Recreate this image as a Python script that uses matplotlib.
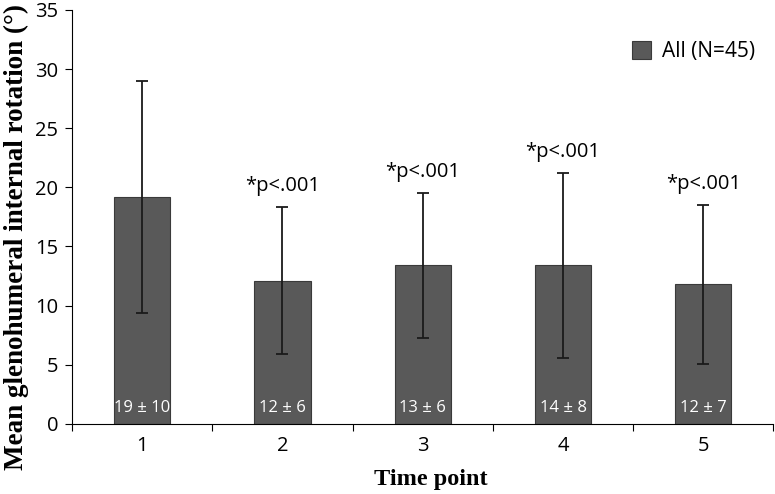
import matplotlib.pyplot as plt
import numpy as np

# values
timepoints = [1, 2, 3, 4, 5]
means = [19.2, 12.1, 13.4, 13.4, 11.8]
sds = [9.8, 6.2, 6.1, 7.8, 6.7]
bar_labels = ["19 \u00b1 10", "12 \u00b1 6", "13 \u00b1 6", "14 \u00b1 8", "12 \u00b1 7"]
sig_labels = ["", "*p<.001", "*p<.001", "*p<.001", "*p<.001"]

sans = ["Open Sans", "DejaVu Sans"]
serif = "Liberation Serif"

fig = plt.figure(figsize=(7.75, 4.94), dpi=100)
ax = fig.add_axes([0.093, 0.142, 0.905, 0.838])

x = np.array(timepoints)
ax.bar(x, means, width=0.4, color="#595959", edgecolor="#3a3a3a", linewidth=0.8,
       label="All (N=45)", zorder=2)
ax.errorbar(x, means, yerr=sds, fmt="none", ecolor="#1a1a1a", elinewidth=1.3,
            capsize=4, capthick=1.3, zorder=3)

for xi, m, s, bl, sl in zip(x, means, sds, bar_labels, sig_labels):
    ax.text(xi, 0.7, bl, ha="center", va="bottom", color="white",
            fontsize=12, family=sans, zorder=4)
    if sl:
        ax.annotate(sl, (xi, m + s), xytext=(0, 8), textcoords="offset points",
                    ha="center", va="bottom", fontsize=14.5, family=sans)

ax.set_xlim(0.5, 5.5)
ax.set_ylim(0, 35)
ax.set_yticks(np.arange(0, 36, 5))
ax.set_xticks(np.arange(0.5, 5.6, 1))
ax.set_xticklabels([])
ax.set_xticks(x, minor=True)
ax.set_xticklabels([str(t) for t in timepoints], minor=True)
ax.tick_params(axis="x", which="minor", length=0, pad=9, labelsize=14.5)
ax.tick_params(axis="x", which="major", length=5, direction="out")
ax.tick_params(axis="y", length=5, direction="out", labelsize=14.5, pad=5)
for lab in ax.get_xticklabels(minor=True) + ax.get_yticklabels():
    lab.set_family(sans)

ax.spines["top"].set_visible(False)
ax.spines["right"].set_visible(False)

ax.set_ylabel("Mean glenohumeral internal rotation (\u00b0)", family=serif,
              fontweight="bold", fontsize=19.5)
ax.yaxis.set_label_coords(-0.062, 0.452)
ax.set_xlabel("Time point", family=serif, fontweight="bold", fontsize=17.5)
ax.xaxis.set_label_coords(0.512, -0.11)

leg = ax.legend(loc="upper right", bbox_to_anchor=(1.0, 0.97), frameon=False,
                prop={"family": sans, "size": 15}, handlelength=0.9, handleheight=0.9,
                handletextpad=0.5)

fig.savefig("out.png", dpi=100)
